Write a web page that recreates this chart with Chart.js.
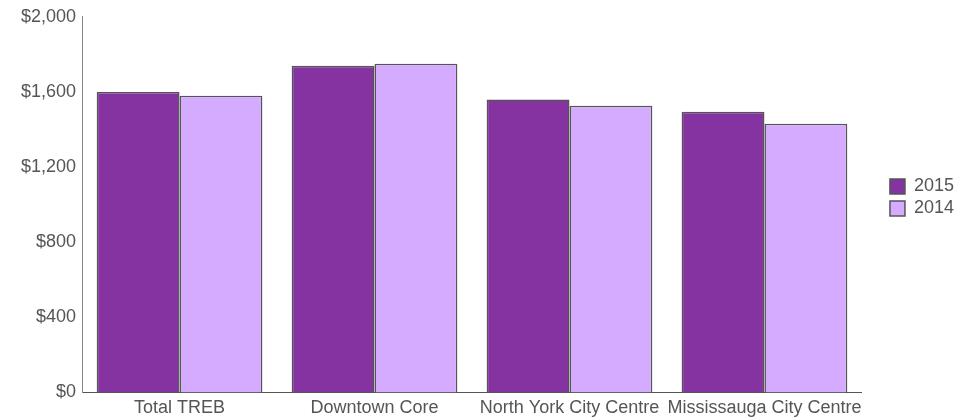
<!DOCTYPE html>
<html>
<head>
<meta charset="utf-8">
<script src="https://cdn.jsdelivr.net/npm/chart.js@4.4.1/dist/chart.umd.min.js"></script>
<style>
  html, body { margin: 0; padding: 0; background: #fff; }
  #wrap { width: 970px; height: 417px; }
</style>
</head>
<body>
<div id="wrap"><canvas id="rentChart"></canvas></div>
<script>
// average rent by area, 2015 vs 2014
var categories = ["Total TREB", "Downtown Core", "North York City Centre", "Mississauga City Centre"];
var rent2015 = [1600, 1740, 1560, 1495];
var rent2014 = [1580, 1750, 1527, 1431];
var yTicks = [0, 400, 800, 1200, 1600, 2000];

var tickFont = { family: "Liberation Sans", size: 18 };

// push the legend away from the plot and nudge it up a bit
var legendGap = {
  id: "legendGap",
  beforeLayout: function (chart) {
    var lg = chart.legend;
    if (lg && !lg._gapped) {
      var fit = lg.fit.bind(lg);
      lg.fit = function () { fit(); this.width += 24; };
      lg._gapped = true;
    }
  },
  afterLayout: function (chart) {
    var lg = chart.legend;
    if (lg) { lg.left += 24; lg.top -= 19; lg.bottom -= 19; }
  }
};

new Chart("rentChart", {
  type: "bar",
  data: {
    labels: categories,
    datasets: [
      { label: "2015", data: rent2015, backgroundColor: "#8533a0", borderColor: "#555", borderWidth: 1.5 },
      { label: "2014", data: rent2014, backgroundColor: "#d5abff", borderColor: "#555", borderWidth: 1.5 }
    ]
  },
  options: {
    responsive: true,
    maintainAspectRatio: false,
    animation: false,
    layout: { padding: { top: 9, right: 6, left: 15, bottom: -7 } },
    datasets: { bar: { categoryPercentage: 0.85, barPercentage: 1.0 } },
    plugins: {
      legend: {
        position: "right",
        labels: {
          boxWidth: 15, boxHeight: 15, padding: 4,
          color: "#555", font: tickFont
        }
      },
      tooltip: { enabled: false }
    },
    scales: {
      x: {
        grid: { display: false, drawTicks: false },
        border: { color: "#555", width: 1 },
        ticks: { color: "#555", padding: 5, maxRotation: 0, autoSkip: false, font: tickFont }
      },
      y: {
        min: 0, max: 2000,
        afterBuildTicks: function (axis) { axis.ticks = yTicks.map(function (v) { return { value: v }; }); },
        grid: { display: false, drawTicks: false },
        border: { color: "#888", width: 1 },
        ticks: {
          color: "#555", padding: 6, font: tickFont,
          callback: function (v) { return "$" + v.toLocaleString("en-US"); }
        }
      }
    }
  },
  plugins: [legendGap]
});
</script>
</body>
</html>
